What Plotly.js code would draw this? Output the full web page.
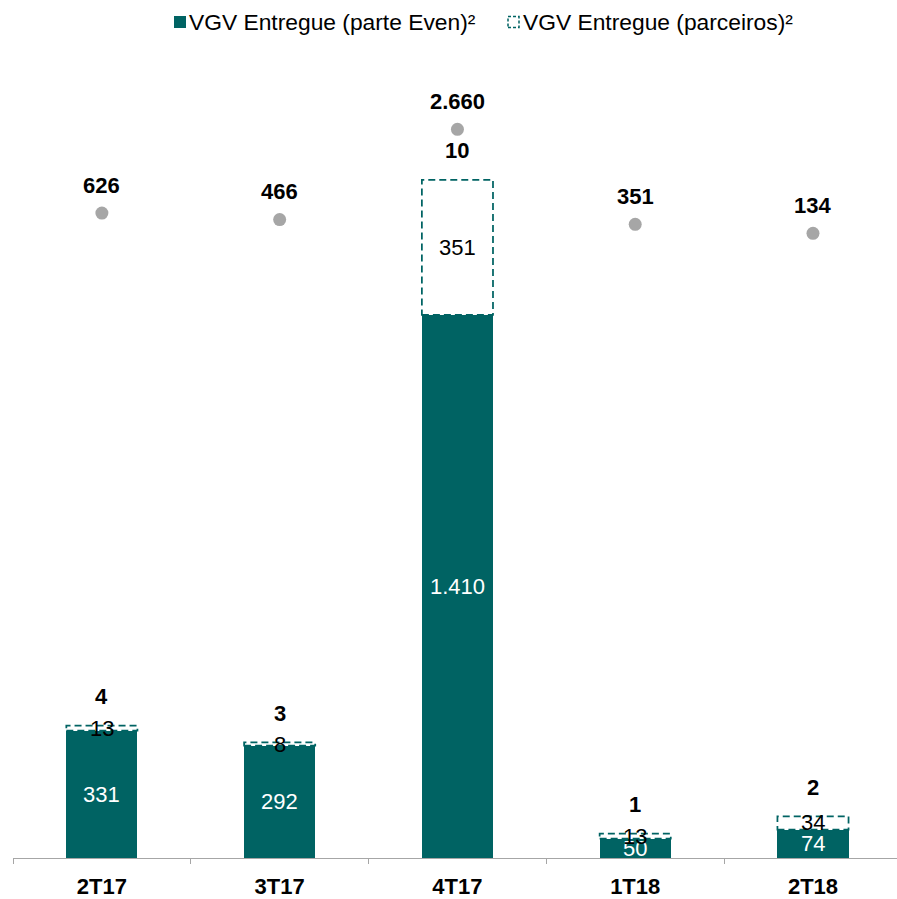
<!DOCTYPE html>
<html>
<head>
<meta charset="utf-8">
<script src="https://cdn.plot.ly/plotly-3.0.1.min.js"></script>
<style>html,body{margin:0;padding:0;background:#fff;}#chart{width:897px;height:899px;}</style>
</head>
<body>
<div id="chart"></div>
<script>
// ---- data ----
const categories = ['2T17', '3T17', '4T17', '1T18', '2T18'];
const vgvEven = [331, 292, 1410, 50, 74];          // VGV Entregue (parte Even)²
const vgvParceiros = [13, 8, 351, 13, 34];         // VGV Entregue (parceiros)²
const empreendimentos = [4, 3, 10, 1, 2];          // bold labels above bars
const vgvTotal = [626, 466, 2660, 351, 134];       // grey dots (secondary axis)
const legendNames = ['VGV Entregue (parte Even)²', 'VGV Entregue (parceiros)²'];

// ---- style ----
const TEAL = '#006363';
const GREY = '#a6a6a6';
const FONT = 'Arial, "Liberation Sans", sans-serif';
const W = 897, H = 899, M = {l: 13, r: 0, t: 40, b: 41};
const BAR_W = 0.4;

const fmt = v => String(v).replace(/\B(?=(\d{3})+(?!\d))/g, '.');
const xs = categories.map((c, i) => i);
const tops = vgvEven.map((v, i) => v + vgvParceiros[i]);

const pw = W - M.l - M.r, ph = H - M.t - M.b;
const px2x = p => (p - M.l) / pw;
const py2y = p => (H - M.b - p) / ph;

const traces = [
  {type: 'bar', x: xs, y: vgvEven, width: BAR_W, marker: {color: TEAL, line: {width: 0}},
   hoverinfo: 'skip', showlegend: false},
  {type: 'bar', x: xs, y: vgvParceiros, width: BAR_W, marker: {color: 'rgba(255,255,255,0)', line: {width: 0}},
   hoverinfo: 'skip', showlegend: false},
  {type: 'scatter', mode: 'markers', x: xs, y: vgvTotal, yaxis: 'y2',
   marker: {color: GREY, size: 13}, hoverinfo: 'skip', showlegend: false}
];

const shapes = xs.map((x, i) => ({
  type: 'rect', xref: 'x', yref: 'y', layer: 'above',
  x0: x - BAR_W / 2, x1: x + BAR_W / 2, y0: vgvEven[i], y1: tops[i],
  line: {color: TEAL, width: 1.75, dash: '7px,4px'}, fillcolor: 'rgba(0,0,0,0)'
}));
// legend icons
shapes.push({type: 'rect', xref: 'paper', yref: 'paper', x0: px2x(174), x1: px2x(186), y0: py2y(28), y1: py2y(16),
  line: {width: 0}, fillcolor: TEAL});
shapes.push({type: 'rect', xref: 'paper', yref: 'paper', x0: px2x(508), x1: px2x(519), y0: py2y(27.5), y1: py2y(16.5),
  line: {color: TEAL, width: 1.5, dash: '3px,2px'}, fillcolor: 'rgba(0,0,0,0)'});

const annotations = [];
xs.forEach((x, i) => {
  annotations.push({x: x, y: vgvEven[i] / 2, xref: 'x', yref: 'y', text: fmt(vgvEven[i]), showarrow: false,
    font: {family: FONT, size: 22, color: '#ffffff'}, yanchor: 'middle'});
  annotations.push({x: x, y: vgvEven[i] + vgvParceiros[i] / 2, xref: 'x', yref: 'y', text: fmt(vgvParceiros[i]), showarrow: false,
    font: {family: FONT, size: 22, color: '#000000'}, yanchor: 'middle'});
  annotations.push({x: x, y: tops[i], xref: 'x', yref: 'y', text: '<b>' + fmt(empreendimentos[i]) + '</b>', showarrow: false,
    font: {family: FONT, size: 22, color: '#000000'}, yanchor: 'middle', yshift: 29});
  annotations.push({x: x, y: vgvTotal[i], xref: 'x', yref: 'y2', text: '<b>' + fmt(vgvTotal[i]) + '</b>', showarrow: false,
    font: {family: FONT, size: 22, color: '#000000'}, yanchor: 'middle', yshift: 28});
});
annotations.push({xref: 'paper', yref: 'paper', x: px2x(187), y: py2y(22), xanchor: 'left', yanchor: 'middle',
  text: legendNames[0], showarrow: false, font: {family: FONT, size: 22.8, color: '#000'}});
annotations.push({xref: 'paper', yref: 'paper', x: px2x(521), y: py2y(22), xanchor: 'left', yanchor: 'middle',
  text: legendNames[1], showarrow: false, font: {family: FONT, size: 22.8, color: '#000'}});

const layout = {
  width: W, height: H, margin: M,
  paper_bgcolor: '#fff', plot_bgcolor: '#fff',
  barmode: 'stack', showlegend: false,
  font: {family: FONT, size: 22, color: '#000'},
  xaxis: {
    type: 'linear', range: [-0.5, 4.4726], fixedrange: true,
    tickmode: 'array', tickvals: xs, ticktext: categories.map(c => '<b>' + c + '</b>'),
    ticks: '', showgrid: false, zeroline: false,
    showline: true, linecolor: GREY, linewidth: 1,
    tickfont: {family: FONT, size: 22, color: '#000'}, ticklabelstandoff: 9,
    minor: {tickmode: 'array', tickvals: [-0.5, 0.5, 1.5, 2.5, 3.5], ticks: 'outside', ticklen: 5,
            tickcolor: GREY, tickwidth: 1, showgrid: false},
    automargin: false
  },
  yaxis: {range: [0, 2124], visible: false, fixedrange: true},
  yaxis2: {range: [-15040, 4829], overlaying: 'y', visible: false, fixedrange: true},
  shapes: shapes,
  annotations: annotations
};

Plotly.newPlot('chart', traces, layout, {staticPlot: true, displayModeBar: false});
</script>
</body>
</html>
